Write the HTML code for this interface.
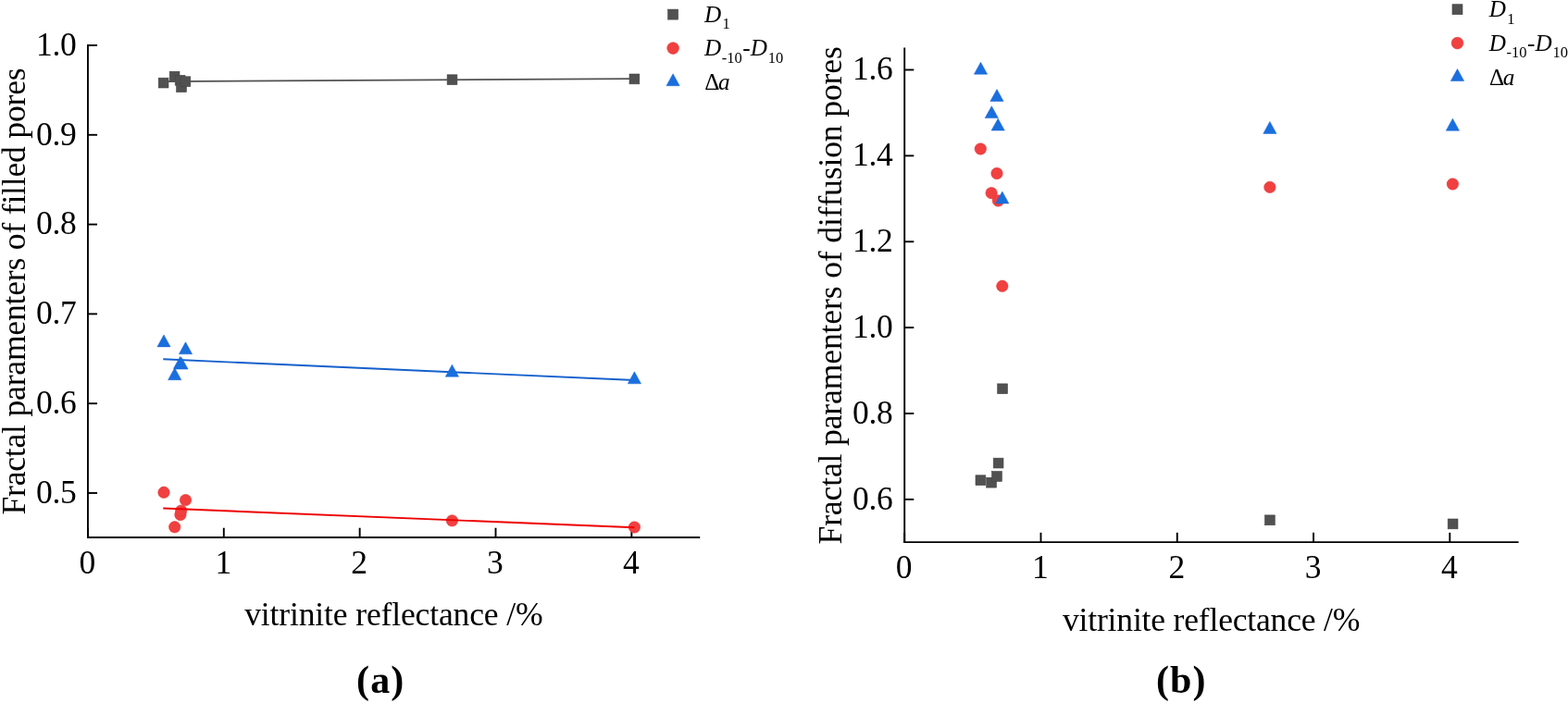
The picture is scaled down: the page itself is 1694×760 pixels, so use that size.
<!DOCTYPE html>
<html lang="en">
<head>
<meta charset="utf-8">
<title>Fractal parameters versus vitrinite reflectance</title>
<style>
html, body { margin: 0; padding: 0; background: #ffffff; }
body { width: 1694px; height: 760px; overflow: hidden; }
svg { display: block; font-family: "Liberation Serif", "Times New Roman", serif; }
text { white-space: pre; font-variant-ligatures: none; font-kerning: none; }
</style>
</head>
<body>
<svg role="img" aria-label="Fractal parameters of filled and diffusion pores versus vitrinite reflectance" width="1694" height="760" viewBox="0 0 1694 760">
<rect x="0" y="0" width="1694" height="760" fill="#ffffff"/>

<g id="chart-a">
<g stroke="#000" stroke-width="1.9" fill="none">
<line x1="94.95" y1="48.05" x2="94.95" y2="581.95"/>
<line x1="94.00" y1="581.00" x2="756.20" y2="581.00"/>
<line x1="94.95" y1="581.00" x2="94.95" y2="570.70"/>
<line x1="241.80" y1="581.00" x2="241.80" y2="570.70"/>
<line x1="388.65" y1="581.00" x2="388.65" y2="570.70"/>
<line x1="535.50" y1="581.00" x2="535.50" y2="570.70"/>
<line x1="682.35" y1="581.00" x2="682.35" y2="570.70"/>
<line x1="94.95" y1="49.00" x2="105.05" y2="49.00"/>
<line x1="94.95" y1="145.80" x2="105.05" y2="145.80"/>
<line x1="94.95" y1="242.60" x2="105.05" y2="242.60"/>
<line x1="94.95" y1="339.40" x2="105.05" y2="339.40"/>
<line x1="94.95" y1="436.20" x2="105.05" y2="436.20"/>
<line x1="94.95" y1="533.00" x2="105.05" y2="533.00"/>
</g>
<g font-size="35.5" fill="#000" letter-spacing="-0.4">
<text x="94.25" y="619.8" text-anchor="middle">0</text>
<text x="241.10" y="619.8" text-anchor="middle">1</text>
<text x="387.95" y="619.8" text-anchor="middle">2</text>
<text x="534.80" y="619.8" text-anchor="middle">3</text>
<text x="681.65" y="619.8" text-anchor="middle">4</text>
<text x="82.30" y="59.80" text-anchor="end">1.0</text>
<text x="82.30" y="156.60" text-anchor="end">0.9</text>
<text x="82.30" y="253.40" text-anchor="end">0.8</text>
<text x="82.30" y="350.20" text-anchor="end">0.7</text>
<text x="82.30" y="447.00" text-anchor="end">0.6</text>
<text x="82.30" y="543.80" text-anchor="end">0.5</text>
</g>
<text transform="translate(26.8,556.6) rotate(-90)" font-size="35.6" fill="#000" textLength="483.2" lengthAdjust="spacing">Fractal paramenters of filled pores</text>
<text x="264.2" y="676.1" font-size="35.6" fill="#000" textLength="322.4" lengthAdjust="spacing">vitrinite reflectance /%</text>
<text x="411.2" y="749.4" text-anchor="middle" font-size="42" font-weight="bold" letter-spacing="1.1" fill="#000">(a)</text>
<rect x="171.20" y="84.20" width="10.80" height="10.80" fill="#515151" stroke="#444444" stroke-width="0.6"/>
<rect x="183.20" y="77.20" width="10.80" height="10.80" fill="#515151" stroke="#444444" stroke-width="0.6"/>
<rect x="189.20" y="81.40" width="10.80" height="10.80" fill="#515151" stroke="#444444" stroke-width="0.6"/>
<rect x="190.60" y="88.80" width="10.80" height="10.80" fill="#515151" stroke="#444444" stroke-width="0.6"/>
<rect x="195.00" y="82.80" width="10.80" height="10.80" fill="#515151" stroke="#444444" stroke-width="0.6"/>
<rect x="483.10" y="80.80" width="10.80" height="10.80" fill="#515151" stroke="#444444" stroke-width="0.6"/>
<rect x="680.00" y="80.00" width="10.80" height="10.80" fill="#515151" stroke="#444444" stroke-width="0.6"/>
<line x1="176.3" y1="88.1" x2="685.4" y2="85.1" stroke="#515151" stroke-width="1.9"/>
<circle cx="177.00" cy="532.30" r="6.20" fill="#F14040" stroke="#E23838" stroke-width="0.6"/>
<circle cx="188.70" cy="569.80" r="6.20" fill="#F14040" stroke="#E23838" stroke-width="0.6"/>
<circle cx="194.90" cy="556.50" r="6.20" fill="#F14040" stroke="#E23838" stroke-width="0.6"/>
<circle cx="195.70" cy="552.10" r="6.20" fill="#F14040" stroke="#E23838" stroke-width="0.6"/>
<circle cx="200.50" cy="540.60" r="6.20" fill="#F14040" stroke="#E23838" stroke-width="0.6"/>
<circle cx="488.40" cy="562.90" r="6.20" fill="#F14040" stroke="#E23838" stroke-width="0.6"/>
<circle cx="685.40" cy="570.00" r="6.20" fill="#F14040" stroke="#E23838" stroke-width="0.6"/>
<line x1="176.3" y1="549.5" x2="685.4" y2="570.3" stroke="#EE0000" stroke-width="1.9"/>
<line x1="176.3" y1="388.3" x2="685.4" y2="411.0" stroke="#1560CC" stroke-width="1.9"/>
<polygon points="177.00,361.95 184.12,374.90 169.88,374.90" fill="#1A6FDF" stroke="#1762D2" stroke-width="0.5"/>
<polygon points="188.70,397.75 195.82,410.70 181.58,410.70" fill="#1A6FDF" stroke="#1762D2" stroke-width="0.5"/>
<polygon points="194.60,385.45 201.72,398.40 187.48,398.40" fill="#1A6FDF" stroke="#1762D2" stroke-width="0.5"/>
<polygon points="196.00,386.15 203.12,399.10 188.88,399.10" fill="#1A6FDF" stroke="#1762D2" stroke-width="0.5"/>
<polygon points="200.50,369.85 207.62,382.80 193.38,382.80" fill="#1A6FDF" stroke="#1762D2" stroke-width="0.5"/>
<polygon points="488.40,394.25 495.52,407.20 481.28,407.20" fill="#1A6FDF" stroke="#1762D2" stroke-width="0.5"/>
<polygon points="685.40,401.85 692.52,414.80 678.28,414.80" fill="#1A6FDF" stroke="#1762D2" stroke-width="0.5"/>
<rect x="721.60" y="10.10" width="11.00" height="11.00" fill="#515151" stroke="#444444" stroke-width="0.6"/>
<circle cx="727.10" cy="52.10" r="6.35" fill="#F14040" stroke="#E23838" stroke-width="0.6"/>
<polygon points="727.10,79.75 734.22,92.70 719.98,92.70" fill="#1A6FDF" stroke="#1762D2" stroke-width="0.5"/>
<g font-size="25.2" fill="#000" font-style="italic"><text x="761.0" y="23.9">D<tspan x="780.4" y="31.4" font-size="16.5" font-style="normal">1</tspan></text><text x="761.0" y="60.0">D<tspan x="779.8" y="67.5" font-size="16.5" font-style="normal">-10</tspan><tspan x="802.3" y="60.0" font-style="normal">-</tspan><tspan x="810.7" y="60.0">D</tspan><tspan x="829.8" y="67.5" font-size="16.5" font-style="normal">10</tspan></text><text x="761.2" y="97.1"><tspan font-style="normal">Δ</tspan><tspan dx="-1.4">a</tspan></text></g>
</g>
<g id="chart-b">
<g stroke="#000" stroke-width="1.9" fill="none">
<line x1="977.20" y1="51.50" x2="977.20" y2="587.05"/>
<line x1="976.25" y1="586.10" x2="1640.60" y2="586.10"/>
<line x1="977.20" y1="586.10" x2="977.20" y2="575.80"/>
<line x1="1124.48" y1="586.10" x2="1124.48" y2="575.80"/>
<line x1="1271.76" y1="586.10" x2="1271.76" y2="575.80"/>
<line x1="1419.04" y1="586.10" x2="1419.04" y2="575.80"/>
<line x1="1566.32" y1="586.10" x2="1566.32" y2="575.80"/>
<line x1="977.20" y1="75.50" x2="987.30" y2="75.50"/>
<line x1="977.20" y1="168.38" x2="987.30" y2="168.38"/>
<line x1="977.20" y1="261.26" x2="987.30" y2="261.26"/>
<line x1="977.20" y1="354.14" x2="987.30" y2="354.14"/>
<line x1="977.20" y1="447.02" x2="987.30" y2="447.02"/>
<line x1="977.20" y1="539.90" x2="987.30" y2="539.90"/>
</g>
<g font-size="35.5" fill="#000" letter-spacing="-0.4">
<text x="976.50" y="624.5" text-anchor="middle">0</text>
<text x="1123.78" y="624.5" text-anchor="middle">1</text>
<text x="1271.06" y="624.5" text-anchor="middle">2</text>
<text x="1418.34" y="624.5" text-anchor="middle">3</text>
<text x="1565.62" y="624.5" text-anchor="middle">4</text>
<text x="964.30" y="86.30" text-anchor="end">1.6</text>
<text x="964.30" y="179.18" text-anchor="end">1.4</text>
<text x="964.30" y="272.06" text-anchor="end">1.2</text>
<text x="964.30" y="364.94" text-anchor="end">1.0</text>
<text x="964.30" y="457.82" text-anchor="end">0.8</text>
<text x="964.30" y="550.70" text-anchor="end">0.6</text>
</g>
<text transform="translate(909.0,588.5) rotate(-90)" font-size="35.6" fill="#000" textLength="538.3" lengthAdjust="spacing">Fractal paramenters of diffusion pores</text>
<text x="1148.0" y="682.1" font-size="35.6" fill="#000" textLength="321.4" lengthAdjust="spacing">vitrinite reflectance /%</text>
<text x="1276.2" y="749.3" text-anchor="middle" font-size="42" font-weight="bold" letter-spacing="1.1" fill="#000">(b)</text>
<rect x="1054.00" y="513.80" width="10.80" height="10.80" fill="#515151" stroke="#444444" stroke-width="0.6"/>
<rect x="1065.70" y="516.30" width="10.80" height="10.80" fill="#515151" stroke="#444444" stroke-width="0.6"/>
<rect x="1071.60" y="509.60" width="10.80" height="10.80" fill="#515151" stroke="#444444" stroke-width="0.6"/>
<rect x="1073.20" y="495.20" width="10.80" height="10.80" fill="#515151" stroke="#444444" stroke-width="0.6"/>
<rect x="1077.70" y="414.90" width="10.80" height="10.80" fill="#515151" stroke="#444444" stroke-width="0.6"/>
<rect x="1366.50" y="556.90" width="10.80" height="10.80" fill="#515151" stroke="#444444" stroke-width="0.6"/>
<rect x="1564.20" y="561.00" width="10.80" height="10.80" fill="#515151" stroke="#444444" stroke-width="0.6"/>
<circle cx="1059.30" cy="161.00" r="6.20" fill="#F14040" stroke="#E23838" stroke-width="0.6"/>
<circle cx="1071.10" cy="208.70" r="6.20" fill="#F14040" stroke="#E23838" stroke-width="0.6"/>
<circle cx="1077.00" cy="187.50" r="6.20" fill="#F14040" stroke="#E23838" stroke-width="0.6"/>
<circle cx="1078.40" cy="217.00" r="6.20" fill="#F14040" stroke="#E23838" stroke-width="0.6"/>
<circle cx="1082.80" cy="309.30" r="6.20" fill="#F14040" stroke="#E23838" stroke-width="0.6"/>
<circle cx="1371.90" cy="202.40" r="6.20" fill="#F14040" stroke="#E23838" stroke-width="0.6"/>
<circle cx="1569.40" cy="199.00" r="6.20" fill="#F14040" stroke="#E23838" stroke-width="0.6"/>
<polygon points="1059.50,67.25 1066.62,80.20 1052.38,80.20" fill="#1A6FDF" stroke="#1762D2" stroke-width="0.5"/>
<polygon points="1071.30,114.65 1078.42,127.60 1064.18,127.60" fill="#1A6FDF" stroke="#1762D2" stroke-width="0.5"/>
<polygon points="1077.00,96.55 1084.12,109.50 1069.88,109.50" fill="#1A6FDF" stroke="#1762D2" stroke-width="0.5"/>
<polygon points="1078.20,128.15 1085.32,141.10 1071.08,141.10" fill="#1A6FDF" stroke="#1762D2" stroke-width="0.5"/>
<polygon points="1082.80,207.05 1089.92,220.00 1075.68,220.00" fill="#1A6FDF" stroke="#1762D2" stroke-width="0.5"/>
<polygon points="1371.90,131.45 1379.02,144.40 1364.78,144.40" fill="#1A6FDF" stroke="#1762D2" stroke-width="0.5"/>
<polygon points="1569.40,128.25 1576.52,141.20 1562.28,141.20" fill="#1A6FDF" stroke="#1762D2" stroke-width="0.5"/>
<rect x="1569.00" y="4.70" width="11.00" height="11.00" fill="#515151" stroke="#444444" stroke-width="0.6"/>
<circle cx="1574.50" cy="46.60" r="6.35" fill="#F14040" stroke="#E23838" stroke-width="0.6"/>
<polygon points="1574.50,74.55 1581.62,87.50 1567.38,87.50" fill="#1A6FDF" stroke="#1762D2" stroke-width="0.5"/>
<g font-size="25.2" fill="#000" font-style="italic"><text x="1608.8" y="18.3">D<tspan x="1628.2" y="25.8" font-size="16.5" font-style="normal">1</tspan></text><text x="1608.8" y="54.6">D<tspan x="1627.6" y="62.1" font-size="16.5" font-style="normal">-10</tspan><tspan x="1650.1" y="54.6" font-style="normal">-</tspan><tspan x="1658.5" y="54.6">D</tspan><tspan x="1677.6" y="62.1" font-size="16.5" font-style="normal">10</tspan></text><text x="1609.0" y="91.7"><tspan font-style="normal">Δ</tspan><tspan dx="-1.4">a</tspan></text></g>
</g>
</svg>
</body>
</html>
